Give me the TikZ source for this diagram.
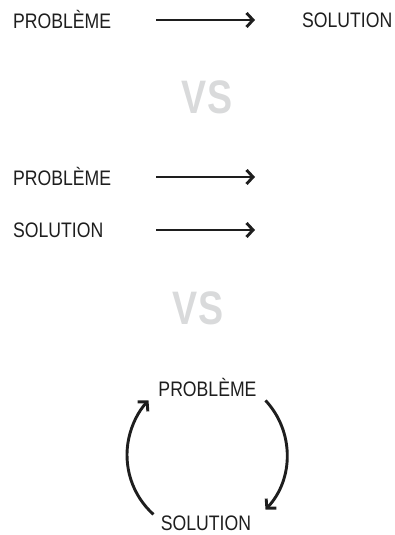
\documentclass[tikz,border=0pt]{standalone}
\usepackage{fontspec}
\setmainfont{Liberation Sans}
\usepackage{xcolor}
\usetikzlibrary{arrows.meta}

\definecolor{ink}{HTML}{1E1E1E}
\definecolor{vsgray}{HTML}{D9DADB}

\tikzset{
  word/.style={inner sep=0pt, text=ink, font=\fontsize{21}{22}\selectfont, xscale=0.84},
  versus/.style={inner sep=0pt, text=vsgray, font=\fontsize{47}{47}\selectfont\bfseries, xscale=0.8},
  arr/.style={ink, line width=2.9pt, -{Straight Barb[length=6.5pt,width=14pt]}}
}

\begin{document}
\begin{tikzpicture}[x=1pt, y=1pt]
  \useasboundingbox (0,0) rectangle (395,535);

  % straight line
  \node[word, anchor=west] (p1) at (13,515) {PROBLÈME};
  \node[word, anchor=west] (s1) at (302,515) {SOLUTION};
  \draw[arr, shorten <=45pt, shorten >=47pt] (p1.east) -- (s1.west);

  \node[versus] (vs1) at (207,438) {VS};

  % parallel
  \node[word, anchor=west] (p2) at (13,358) {PROBLÈME};
  \node[word, anchor=west] (s2) at (13,305) {SOLUTION};
  \coordinate (e2) at (255,358);
  \coordinate (e3) at (255,305);
  \draw[arr, shorten <=45pt] (p2.east) -- (e2);
  \draw[arr, shorten <=45pt] (p2.east |- s2.east) -- (e3);

  \node[versus] (vs2) at (198,227) {VS};

  % cycle
  \coordinate (c) at (207,80);
  \node[word] (p3) at (207.5,148) {PROBLÈME};
  \node[word] (s3) at (206,12) {SOLUTION};
  \draw[arr] ([shift={(228:80)}]c) arc[start angle=228, end angle=137, radius=80];
  \draw[arr] ([shift={(43:80)}]c) arc[start angle=43, end angle=-43, radius=80];
\end{tikzpicture}
\end{document}
